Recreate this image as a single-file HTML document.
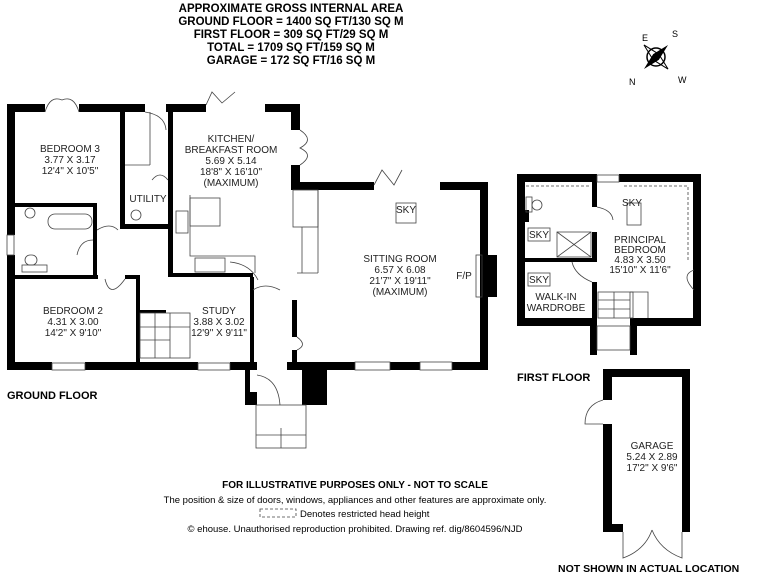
<!DOCTYPE html>
<html><head><meta charset="utf-8"><style>
html,body{margin:0;padding:0;background:#fff;}
svg{display:block;font-family:"Liberation Sans",Arial,sans-serif;}
.h{font-weight:bold;font-size:11.5px;text-anchor:middle;}
.r{font-size:10px;text-anchor:middle;fill:#222;}
.w{fill:#000;}
.t{fill:none;stroke:#444;stroke-width:0.8;}
</style></head><body>
<svg width="768" height="576" viewBox="0 0 768 576">
<text class="h" x="291" y="12">APPROXIMATE GROSS INTERNAL AREA</text>
<text class="h" x="291" y="25">GROUND FLOOR = 1400 SQ FT/130 SQ M</text>
<text class="h" x="291" y="38">FIRST FLOOR = 309 SQ FT/29 SQ M</text>
<text class="h" x="291" y="51">TOTAL = 1709 SQ FT/159 SQ M</text>
<text class="h" x="291" y="64">GARAGE = 172 SQ FT/16 SQ M</text>
<g transform="translate(656,57)">
<circle r="9" fill="none" stroke="#000" stroke-width="1.5"/>
<polygon points="0,-17 4,0 0,17 -4,0" fill="#000" transform="rotate(45)"/>
<polygon points="0,-17 4,0 0,17 -4,0" fill="none" stroke="#000" transform="rotate(-45)"/>
<text x="-14" y="-16" font-size="9">E</text><text x="16" y="-20" font-size="9">S</text>
<text x="-27" y="28" font-size="9">N</text><text x="22" y="26" font-size="9">W</text>
</g>
<g class="w">
<rect x="7" y="104" width="38" height="8"/>
<rect x="79" y="104" width="66" height="8"/>
<rect x="166" y="104" width="40" height="8"/>
<rect x="265" y="104" width="35" height="8"/>
<rect x="291" y="104" width="9" height="26"/>
<rect x="291" y="165" width="9" height="25"/>
<rect x="291" y="182" width="83" height="8"/>
<rect x="440" y="182" width="48" height="8"/>
<rect x="480" y="182" width="8" height="188"/>
<rect x="487" y="255" width="10" height="42"/>
<rect x="287" y="362" width="68" height="8"/>
<rect x="390" y="362" width="30" height="8"/>
<rect x="452" y="362" width="36" height="8"/>
<rect x="7" y="104" width="8" height="131"/>
<rect x="7" y="255" width="8" height="115"/>
<rect x="7" y="362" width="45" height="8"/>
<rect x="85" y="362" width="113" height="8"/>
<rect x="230" y="362" width="27" height="8"/>
<rect x="120" y="112" width="5" height="115"/>
<rect x="120" y="224" width="52" height="5"/>
<rect x="168" y="112" width="5" height="165"/>
<rect x="168" y="273" width="85" height="4"/>
<rect x="14" y="203" width="83" height="4"/>
<rect x="93" y="203" width="4" height="72"/>
<rect x="14" y="275" width="84" height="4"/>
<rect x="125" y="275" width="15" height="4"/>
<rect x="136" y="275" width="4" height="90"/>
<rect x="140" y="310" width="26" height="3"/>
<rect x="250" y="277" width="4" height="90"/>
<rect x="292" y="300" width="5" height="37"/>
<rect x="292" y="350" width="5" height="20"/>
<rect x="245" y="362" width="12" height="8"/>
<rect x="245" y="370" width="5" height="35"/>
<rect x="245" y="392" width="12" height="13"/>
<rect x="302" y="362" width="25" height="43"/>
</g>
<g class="t">
<rect x="256" y="405" width="50" height="43"/>
<line x1="256" y1="435" x2="306" y2="435"/>
<line x1="281" y1="428" x2="281" y2="448"/>
<path d="M45 112 Q50 95 62 100 M79 112 Q74 95 62 100"/>
<path d="M145 112 Q165 115 166 130"/>
<path d="M206 105 L212 92 L222 103 L235 92"/>
<path d="M300 130 Q315 140 300 148 Q315 155 300 165"/>
<path d="M374 185 L382 170 L394 185 L402 170"/>
<line x1="150" y1="112" x2="150" y2="165"/><line x1="125" y1="165" x2="150" y2="165"/>
<rect x="190" y="198" width="30" height="28"/>
<path d="M190 195 L190 256 L255 256 L255 273"/>
<rect x="176" y="211" width="12" height="22"/>
<rect x="293" y="190" width="25" height="37"/><line x1="302" y1="227" x2="302" y2="273"/>
<line x1="318" y1="190" x2="318" y2="273"/><line x1="297" y1="273" x2="318" y2="273"/>
<rect x="48" y="214" width="44" height="15" rx="7"/>
<circle cx="30" cy="213" r="5"/>
<rect x="25" y="255" width="12" height="10" rx="5"/><rect x="22" y="265" width="25" height="7"/>
<rect x="7" y="235" width="7" height="20"/>
<rect x="52" y="363" width="33" height="7"/><rect x="198" y="363" width="32" height="7"/>
<rect x="355" y="362" width="35" height="8"/><rect x="420" y="362" width="32" height="8"/>
<rect x="476" y="255" width="6" height="42"/>
<rect x="140" y="313" width="50" height="45"/>
<line x1="140" y1="327" x2="190" y2="327"/><line x1="140" y1="340" x2="170" y2="340"/>
<line x1="155" y1="313" x2="155" y2="358"/><line x1="170" y1="313" x2="170" y2="358"/>
<circle cx="136" cy="215" r="5"/>
<rect x="195" y="258" width="30" height="14"/>
<path d="M97 230 Q110 222 118 230 M77 255 Q80 240 93 240 M105 279 Q110 300 125 279"/>
<path d="M152 180 Q160 170 168 180 M230 262 Q250 264 258 280 M253 290 Q265 282 280 290"/>
<path d="M297 337 Q308 345 297 350"/>
<path d="M257 375 Q278 378 280 405"/>
</g>
<text class="r" x="70" y="152">BEDROOM 3</text><text class="r" x="70" y="163">3.77 X 3.17</text><text class="r" x="70" y="174">12'4" X 10'5"</text>
<text class="r" x="231" y="142">KITCHEN/</text><text class="r" x="231" y="153">BREAKFAST ROOM</text><text class="r" x="231" y="164">5.69 X 5.14</text><text class="r" x="231" y="175">18'8" X 16'10"</text><text class="r" x="231" y="186">(MAXIMUM)</text>
<text class="r" x="148" y="202">UTILITY</text>
<text class="r" x="73" y="314">BEDROOM 2</text><text class="r" x="73" y="325">4.31 X 3.00</text><text class="r" x="73" y="336">14'2" X 9'10"</text>
<text class="r" x="219" y="314">STUDY</text><text class="r" x="219" y="325">3.88 X 3.02</text><text class="r" x="219" y="336">12'9" X 9'11"</text>
<rect x="396" y="203" width="20" height="20" class="t"/><text class="r" x="406" y="213">SKY</text>
<text class="r" x="400" y="262">SITTING ROOM</text><text class="r" x="400" y="273">6.57 X 6.08</text><text class="r" x="400" y="284">21'7" X 19'11"</text><text class="r" x="400" y="295">(MAXIMUM)</text>
<text class="r" x="464" y="279">F/P</text>
<text x="7" y="399" font-weight="bold" font-size="11">GROUND FLOOR</text>
<g class="w">
<rect x="517" y="174" width="80" height="8"/>
<rect x="619" y="174" width="82" height="8"/>
<rect x="693" y="174" width="8" height="152"/>
<rect x="517" y="174" width="8" height="152"/>
<rect x="517" y="318" width="80" height="8"/>
<rect x="630" y="318" width="71" height="8"/>
<rect x="590" y="318" width="7" height="37"/>
<rect x="630" y="318" width="7" height="37"/>
<rect x="592" y="182" width="5" height="25"/>
<rect x="592" y="232" width="5" height="30"/>
<rect x="525" y="258" width="72" height="4"/>
<rect x="592" y="282" width="5" height="36"/>
<rect x="525" y="210" width="4" height="12"/>
</g>
<g class="t">
<rect x="597" y="175" width="22" height="7"/>
<path d="M526 186 L590 186 M624 186 L688 186 L688 260" stroke-dasharray="3,2"/>
<rect x="526" y="197" width="6" height="15"/><circle cx="537" cy="205" r="5"/>
<rect x="557" y="232" width="34" height="25"/><path d="M557 232 L591 257 M591 232 L557 257"/>
<path d="M597 207 Q612 210 613 220"/>
<path d="M572 262 Q575 275 592 282"/>
<rect x="598" y="292" width="35" height="26"/>
<path d="M598 300 L630 300 M598 309 L630 309 M614 292 L614 318 M630 292 L630 318 M630 292 L648 292 L648 318"/>
<rect x="597" y="326" width="33" height="24"/>
<rect x="627" y="203" width="14" height="22"/>
<rect x="528" y="228" width="22" height="13"/><rect x="528" y="273" width="22" height="13"/>
<path d="M694 270 Q680 275 694 290"/>
</g>
<text class="r" x="632" y="206">SKY</text>
<text class="r" x="539" y="238">SKY</text><text class="r" x="539" y="283">SKY</text>
<text class="r" x="640" y="243">PRINCIPAL</text><text class="r" x="640" y="253">BEDROOM</text><text class="r" x="640" y="263">4.83 X 3.50</text><text class="r" x="640" y="273">15'10" X 11'6"</text>
<text class="r" x="556" y="300">WALK-IN</text><text class="r" x="556" y="311">WARDROBE</text>
<text x="517" y="381" font-weight="bold" font-size="11">FIRST FLOOR</text>
<g class="w">
<rect x="603" y="369" width="87" height="8"/>
<rect x="603" y="369" width="9" height="31"/>
<rect x="603" y="424" width="9" height="108"/>
<rect x="603" y="524" width="20" height="8"/>
<rect x="682" y="369" width="8" height="163"/>
</g>
<g class="t">
<path d="M603 400 Q585 405 585 424 L603 424"/>
<path d="M623 532 L623 558 Q645 550 652 530 M682 532 L682 558 Q660 550 652 530"/>
</g>
<text class="r" x="652" y="449">GARAGE</text><text class="r" x="652" y="460">5.24 X 2.89</text><text class="r" x="652" y="471">17'2" X 9'6"</text>
<text x="558" y="572" font-weight="bold" font-size="10.5">NOT SHOWN IN ACTUAL LOCATION</text>
<text x="355" y="488" font-weight="bold" font-size="10" text-anchor="middle">FOR ILLUSTRATIVE PURPOSES ONLY - NOT TO SCALE</text>
<text x="355" y="503" font-size="9.5" text-anchor="middle">The position &amp; size of doors, windows, appliances and other features are approximate only.</text>
<rect x="260" y="509" width="36" height="8" fill="none" stroke="#444" stroke-dasharray="3,2" stroke-width="0.8"/>
<text x="300" y="517" font-size="9.5">Denotes restricted head height</text>
<text x="355" y="532" font-size="9.5" text-anchor="middle">© ehouse. Unauthorised reproduction prohibited. Drawing ref. dig/8604596/NJD</text>
</svg>
</body></html>
